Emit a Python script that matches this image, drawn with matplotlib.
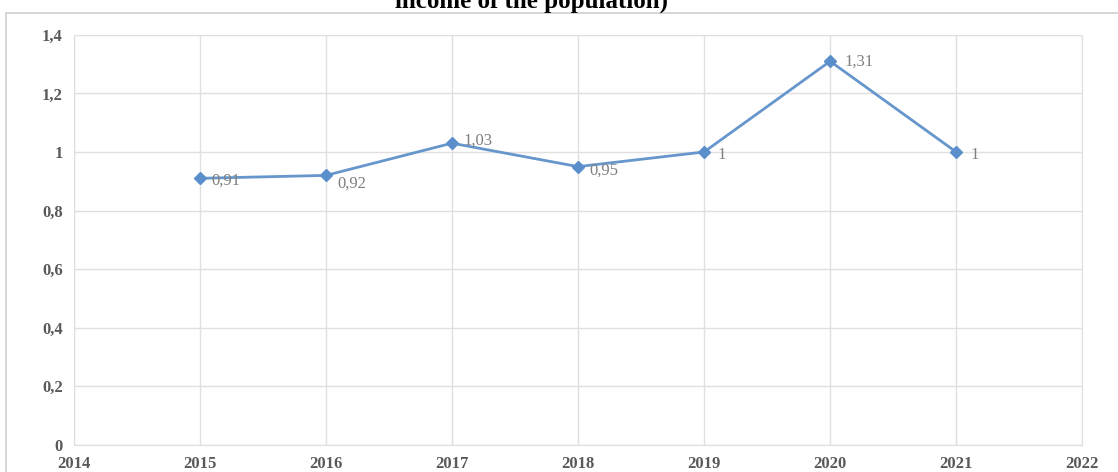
import matplotlib.pyplot as plt
from matplotlib.patches import Rectangle

years = [2015, 2016, 2017, 2018, 2019, 2020, 2021]
values = [0.91, 0.92, 1.03, 0.95, 1.00, 1.31, 1.00]
value_labels = ["0,91", "0,92", "1,03", "0,95", "1", "1,31", "1"]
x_ticks = list(range(2014, 2023))
y_ticks = [0, 0.2, 0.4, 0.6, 0.8, 1.0, 1.2, 1.4]
y_tick_labels = ["0", "0,2", "0,4", "0,6", "0,8", "1", "1,2", "1,4"]

plt.rcParams['font.family'] = ['Liberation Serif', 'DejaVu Serif']

fig = plt.figure(figsize=(11.18, 4.72), dpi=100)
ax = fig.add_axes([0.066, 0.058, 0.902, 0.868])

# outer chart frame
fig.patches.append(Rectangle((0.005, -0.05), 1.2, 1.022, transform=fig.transFigure,
                             fill=False, edgecolor='#d0d0d0', linewidth=1.2))

fig.text(0.475, 0.983, "income of the population)", ha='center', va='baseline',
         fontsize=18, fontweight='bold', color='black')

ax.plot(years, values, color='#6696cc', linewidth=2, marker='D', markersize=6,
        markerfacecolor='#5b8fcc', markeredgecolor='#5b8fcc')

offsets = [(8, -2), (8, -6), (8, 2), (8, -3), (10, -2), (10, 0), (10, -2)]
for x, y, lab, off in zip(years, values, value_labels, offsets):
    ax.annotate(lab, (x, y), xytext=off, textcoords='offset points',
                ha='left', va='center', fontsize=12, color='#7f7f7f')

ax.set_xlim(2014, 2022)
ax.set_ylim(0, 1.4)
ax.set_xticks(x_ticks)
ax.set_xticklabels([str(x) for x in x_ticks], fontsize=12, fontweight='bold', color='#595959')
ax.set_yticks(y_ticks)
ax.set_yticklabels(y_tick_labels, fontsize=12, fontweight='bold', color='#595959')
ax.tick_params(axis='x', length=0, pad=8)
ax.tick_params(axis='y', length=0, pad=8)
ax.grid(True, color='#e0e0e0', linewidth=1)
for s in ax.spines.values():
    s.set_color('#e0e0e0')

fig.savefig("out.png", dpi=100)
